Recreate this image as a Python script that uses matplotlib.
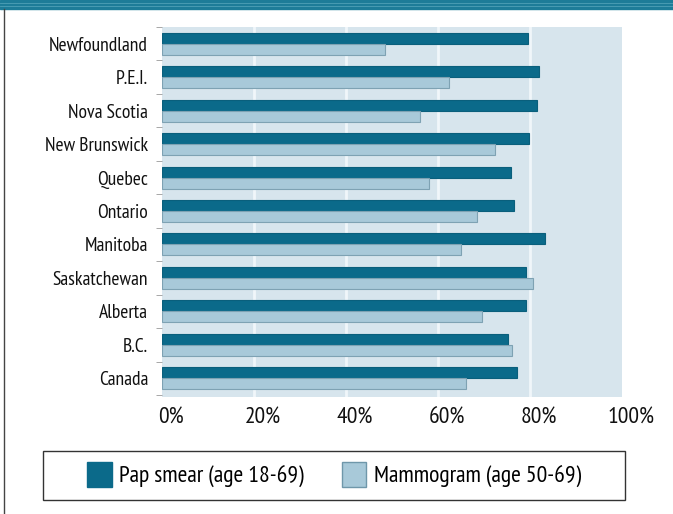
import numpy as np
import matplotlib.pyplot as plt
import matplotlib.transforms as mtransforms
from matplotlib.patches import Rectangle, Patch
from matplotlib.lines import Line2D

provinces = ['Newfoundland', 'P.E.I.', 'Nova Scotia', 'New Brunswick', 'Quebec',
             'Ontario', 'Manitoba', 'Saskatchewan', 'Alberta', 'B.C.', 'Canada']
pap_smear = [79.6, 82.0, 81.5, 79.8, 75.9, 76.5, 83.3, 79.1, 79.1, 75.2, 77.2]
mammogram = [48.5, 62.4, 56.0, 72.4, 58.0, 68.5, 65.0, 80.6, 69.6, 76.1, 66.0]
xticks = [0, 20, 40, 60, 80, 100]
xticklabels = ['0%', '20%', '40%', '60%', '80%', '100%']

plt.rcParams['font.family'] = ['PT Sans Narrow', 'Archivo Narrow', 'DejaVu Sans']

dark = '#0b6a8a'
light = '#a8c9d9'

W, H = 673, 514
fig = plt.figure(figsize=(W / 100, H / 100), dpi=100)
ax = fig.add_axes([162 / W, 1 - 397 / H, 460 / W, 370 / H])
ax.set_facecolor('#d7e5ed')

y = np.arange(len(provinces))
bh = 0.33
ax.barh(y - bh / 2, pap_smear, height=bh, color=dark, edgecolor='#0a5f7c', lw=0.8, zorder=3)
ax.barh(y + bh / 2, mammogram, height=bh, color=light, edgecolor='#7ea2b3', lw=0.8, zorder=3)

ax.set_xlim(0, 100)
ax.set_ylim(10.56, -0.5)
ax.set_xticks(xticks)
ax.set_xticklabels(xticklabels, fontsize=17, color='#111111')
ax.set_yticks(y)
ax.set_yticklabels(provinces, fontsize=14, color='#111111')
ax.set_yticks(np.arange(-0.5, 10.6, 1), minor=True)
ax.tick_params(axis='y', which='major', length=0, pad=10)
ax.tick_params(axis='y', which='minor', length=4, color='#999999', width=0.6)
ax.tick_params(axis='x', length=0, pad=8)
for lbl in ax.get_xticklabels():
    lbl.set_transform(lbl.get_transform() + mtransforms.ScaledTranslation(9 / 100, 0, fig.dpi_scale_trans))
for x in xticks[1:5]:
    ax.axvline(x, color='#f0f6fa', lw=2, zorder=1)
for s in ax.spines.values():
    s.set_visible(False)

# frame decorations: teal band on top, rule on left
fig.patches.append(Rectangle((0, 1 - 9 / H), 1, 9 / H, transform=fig.transFigure,
                             color='#1d7c98', zorder=0))
for yy in [3, 6]:
    fig.lines.append(Line2D([0, 1], [1 - yy / H] * 2, transform=fig.transFigure,
                            color='#4fa0b6', lw=0.6))
fig.lines.append(Line2D([4 / W, 4 / W], [0, 1 - 9 / H], transform=fig.transFigure,
                        color='#444444', lw=1))

# legend box
fig.patches.append(Rectangle((43 / W, 1 - 500 / H), 582 / W, 49 / H, transform=fig.transFigure,
                             fill=False, edgecolor='#333333', lw=1))
handles = [Patch(facecolor=dark, edgecolor=dark, label='Pap smear (age 18-69)'),
           Patch(facecolor=light, edgecolor='#6f97aa', label='Mammogram (age 50-69)')]
fig.legend(handles=handles, loc='center', bbox_to_anchor=(334 / W, 1 - 475 / H),
           ncol=2, frameon=False, fontsize=17, handlelength=1.05, handleheight=1.25,
           handletextpad=0.3, columnspacing=1.6)

fig.savefig('out.png', dpi=100)
